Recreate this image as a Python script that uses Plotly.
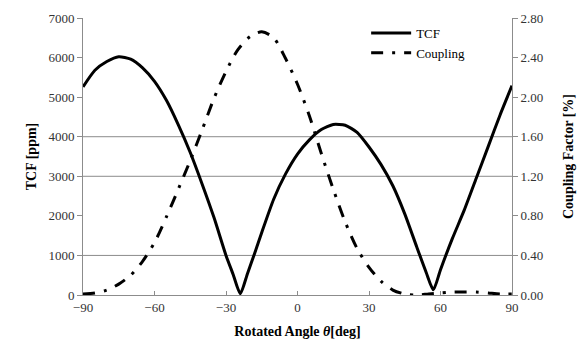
import plotly.graph_objects as go

angle = [-90, -85, -80, -75, -70, -65, -60, -55, -50, -45, -40, -35, -30, -27, -24,
         -21, -18, -15, -10, -5, 0, 5, 10, 15, 20, 25, 30, 35, 40, 45, 50, 54, 57,
         60, 65, 70, 75, 80, 85, 90]
tcf = [5260, 5680, 5900, 6020, 5960, 5740, 5400, 4920, 4300, 3600, 2800, 1950, 1000, 520, 30,
       540, 1050, 1580, 2420, 3060, 3560, 3920, 4180, 4310, 4290, 4110, 3740, 3300, 2760, 2050, 1220, 570, 130,
       640, 1430, 2150, 2950, 3750, 4550, 5290]

angle_c = [-90, -85, -80, -75, -70, -65, -60, -55, -50, -45, -40, -35, -30, -25, -20, -15,
           -10, -5, 0, 5, 10, 15, 20, 25, 30, 35, 40, 45, 50, 55, 60, 65, 70, 75, 80, 85, 90]
coupling = [0.01, 0.02, 0.05, 0.11, 0.20, 0.34, 0.53, 0.79, 1.07, 1.36, 1.67, 1.99, 2.26, 2.48, 2.61, 2.66,
            2.60, 2.39, 2.13, 1.81, 1.43, 1.07, 0.74, 0.47, 0.28, 0.14, 0.05, 0.01, 0.00, 0.01, 0.02, 0.03,
            0.03, 0.03, 0.02, 0.01, 0.01]

x_ticks = [-90, -60, -30, 0, 30, 60, 90]
y_ticks = [0, 1000, 2000, 3000, 4000, 5000, 6000, 7000]
y2_ticks = [0.0, 0.4, 0.8, 1.2, 1.6, 2.0, 2.4, 2.8]
grid_levels = [1000, 3000, 4000]

FONT = "Liberation Serif"
AX = "#8c8c8c"

fig = go.Figure()
fig.add_trace(go.Scatter(x=angle, y=tcf, name="TCF", mode="lines",
                         line=dict(color="black", width=3, shape="spline", smoothing=0.6)))
fig.add_trace(go.Scatter(x=angle_c, y=coupling, name="Coupling", mode="lines", yaxis="y2",
                         line=dict(color="black", width=3, dash="12px,9px,3px,9px",
                                   shape="spline", smoothing=0.8)))

for g in grid_levels:
    fig.add_shape(type="line", xref="paper", yref="y", x0=0, x1=1, y0=g, y1=g,
                  line=dict(color=AX, width=1), layer="below")

fig.update_layout(
    width=582, height=342,
    margin=dict(l=83, r=70, t=18, b=47),
    paper_bgcolor="white", plot_bgcolor="white",
    font=dict(family=FONT, color="#333", size=13),
    showlegend=True,
    legend=dict(x=0.66, y=1.0, xanchor="left", yanchor="top", bgcolor="rgba(0,0,0,0)",
                font=dict(family=FONT, size=13, color="black"), tracegroupgap=0,
                itemwidth=40),
    xaxis=dict(range=[-90, 90], tickvals=x_ticks, automargin=False,
               ticktext=[("\u2212" + str(-v)) if v < 0 else str(v) for v in x_ticks],
               showgrid=False, zeroline=False, showline=True, linecolor=AX, linewidth=1,
               ticks="inside", ticklen=4, tickcolor=AX,
               title=dict(text="<b>Rotated Angle <i>\u03b8</i>[deg]</b>", font=dict(size=14, color="black"), standoff=12)),
    yaxis=dict(range=[0, 7000], tickvals=y_ticks, showgrid=False, zeroline=False, automargin=False,
               showline=True, linecolor=AX, linewidth=1, ticks="outside", ticklen=5, tickcolor=AX,
               title=dict(text="<b>TCF [ppm]</b>", font=dict(size=14, color="black"), standoff=8)),
    yaxis2=dict(range=[0, 2.8], tickvals=y2_ticks, tickformat=".2f", overlaying="y", side="right",
                showgrid=False, zeroline=False, showline=True, linecolor=AX, linewidth=1, automargin=False,
                ticks="outside", ticklen=5, tickcolor=AX,
                title=dict(text="<b>Coupling Factor [%]</b>", font=dict(size=14, color="black"), standoff=20)),
)

fig.write_html("out.html")
